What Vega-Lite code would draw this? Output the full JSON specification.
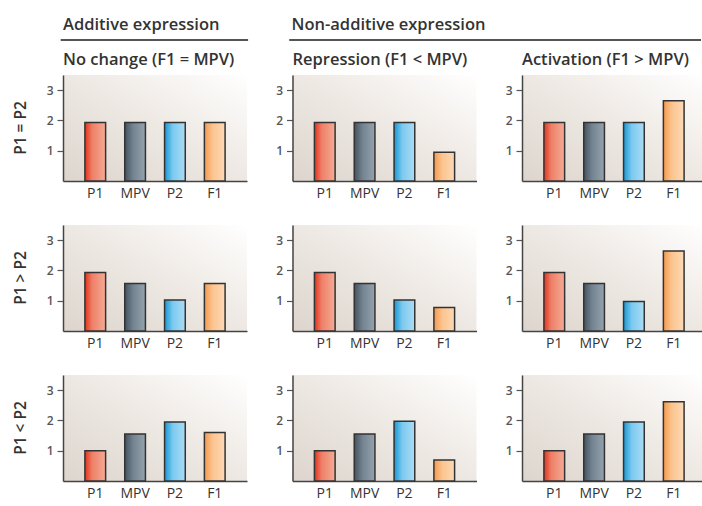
{
  "$schema": "https://vega.github.io/schema/vega-lite/v6.json",
  "padding": {"left": 13, "top": 4, "right": 0, "bottom": 0},
  "background": "white",
  "spacing": 7,
  "config": {
    "font": "Open Sans",
    "view": {"stroke": null},
    "axis": {"grid": false}
  },
  "vconcat": [
    {
      "width": 638,
      "height": 40,
      "layer": [
        {
          "data": {"values": [{"label": "Additive expression"}]},
          "mark": {"type": "text", "align": "left", "baseline": "middle", "fontSize": 16.5, "fontWeight": 600, "color": "#333333"},
          "encoding": {
            "x": {"datum": 0, "type": "quantitative", "scale": {"domain": [0, 2.792], "nice": false, "zero": false}, "axis": null},
            "y": {"datum": 0.47, "type": "quantitative", "scale": {"domain": [0, 1], "nice": false}, "axis": null},
            "text": {"field": "label"}
          }
        },
        {
          "data": {"values": [{"label": "Non-additive expression"}]},
          "mark": {"type": "text", "align": "left", "baseline": "middle", "fontSize": 16.5, "fontWeight": 600, "color": "#333333"},
          "encoding": {
            "x": {"datum": 1, "type": "quantitative"},
            "y": {"datum": 0.47, "type": "quantitative"},
            "text": {"field": "label"}
          }
        },
        {
          "data": {"values": [{"group": "Additive expression"}]},
          "mark": {"type": "rule", "color": "#555555", "strokeWidth": 2},
          "encoding": {
            "x": {"datum": -0.01, "type": "quantitative"},
            "x2": {"datum": 0.81},
            "y": {"datum": 0.1, "type": "quantitative"}
          }
        },
        {
          "data": {"values": [{"group": "Non-additive expression"}]},
          "mark": {"type": "rule", "color": "#555555", "strokeWidth": 2},
          "encoding": {
            "x": {"datum": 0.99, "type": "quantitative"},
            "x2": {"datum": 2.792},
            "y": {"datum": 0.1, "type": "quantitative"}
          }
        }
      ]
    },
    {
      "data": {
        "values": [
          {"row": "P1 = P2", "col": "No change (F1 = MPV)", "genotype": "P1", "value": 1.93},
          {"row": "P1 = P2", "col": "No change (F1 = MPV)", "genotype": "MPV", "value": 1.93},
          {"row": "P1 = P2", "col": "No change (F1 = MPV)", "genotype": "P2", "value": 1.93},
          {"row": "P1 = P2", "col": "No change (F1 = MPV)", "genotype": "F1", "value": 1.93},
          {"row": "P1 = P2", "col": "Repression (F1 < MPV)", "genotype": "P1", "value": 1.93},
          {"row": "P1 = P2", "col": "Repression (F1 < MPV)", "genotype": "MPV", "value": 1.93},
          {"row": "P1 = P2", "col": "Repression (F1 < MPV)", "genotype": "P2", "value": 1.93},
          {"row": "P1 = P2", "col": "Repression (F1 < MPV)", "genotype": "F1", "value": 0.95},
          {"row": "P1 = P2", "col": "Activation (F1 > MPV)", "genotype": "P1", "value": 1.93},
          {"row": "P1 = P2", "col": "Activation (F1 > MPV)", "genotype": "MPV", "value": 1.93},
          {"row": "P1 = P2", "col": "Activation (F1 > MPV)", "genotype": "P2", "value": 1.93},
          {"row": "P1 = P2", "col": "Activation (F1 > MPV)", "genotype": "F1", "value": 2.65},
          {"row": "P1 > P2", "col": "No change (F1 = MPV)", "genotype": "P1", "value": 1.93},
          {"row": "P1 > P2", "col": "No change (F1 = MPV)", "genotype": "MPV", "value": 1.57},
          {"row": "P1 > P2", "col": "No change (F1 = MPV)", "genotype": "P2", "value": 1.02},
          {"row": "P1 > P2", "col": "No change (F1 = MPV)", "genotype": "F1", "value": 1.57},
          {"row": "P1 > P2", "col": "Repression (F1 < MPV)", "genotype": "P1", "value": 1.93},
          {"row": "P1 > P2", "col": "Repression (F1 < MPV)", "genotype": "MPV", "value": 1.57},
          {"row": "P1 > P2", "col": "Repression (F1 < MPV)", "genotype": "P2", "value": 1.02},
          {"row": "P1 > P2", "col": "Repression (F1 < MPV)", "genotype": "F1", "value": 0.78},
          {"row": "P1 > P2", "col": "Activation (F1 > MPV)", "genotype": "P1", "value": 1.93},
          {"row": "P1 > P2", "col": "Activation (F1 > MPV)", "genotype": "MPV", "value": 1.57},
          {"row": "P1 > P2", "col": "Activation (F1 > MPV)", "genotype": "P2", "value": 0.97},
          {"row": "P1 > P2", "col": "Activation (F1 > MPV)", "genotype": "F1", "value": 2.64},
          {"row": "P1 < P2", "col": "No change (F1 = MPV)", "genotype": "P1", "value": 1.0},
          {"row": "P1 < P2", "col": "No change (F1 = MPV)", "genotype": "MPV", "value": 1.55},
          {"row": "P1 < P2", "col": "No change (F1 = MPV)", "genotype": "P2", "value": 1.95},
          {"row": "P1 < P2", "col": "No change (F1 = MPV)", "genotype": "F1", "value": 1.6},
          {"row": "P1 < P2", "col": "Repression (F1 < MPV)", "genotype": "P1", "value": 1.0},
          {"row": "P1 < P2", "col": "Repression (F1 < MPV)", "genotype": "MPV", "value": 1.55},
          {"row": "P1 < P2", "col": "Repression (F1 < MPV)", "genotype": "P2", "value": 1.97},
          {"row": "P1 < P2", "col": "Repression (F1 < MPV)", "genotype": "F1", "value": 0.69},
          {"row": "P1 < P2", "col": "Activation (F1 > MPV)", "genotype": "P1", "value": 1.0},
          {"row": "P1 < P2", "col": "Activation (F1 > MPV)", "genotype": "MPV", "value": 1.55},
          {"row": "P1 < P2", "col": "Activation (F1 > MPV)", "genotype": "P2", "value": 1.95},
          {"row": "P1 < P2", "col": "Activation (F1 > MPV)", "genotype": "F1", "value": 2.62}
        ]
      },
      "facet": {
        "row": {
          "field": "row", "type": "nominal", "sort": ["P1 = P2", "P1 > P2", "P1 < P2"],
          "header": {"title": null, "labelAngle": -90, "labelOrient": "left", "labelFontSize": 15.5, "labelFontWeight": 600, "labelColor": "#333333", "labelPadding": 10}
        },
        "column": {
          "field": "col", "type": "nominal", "sort": ["No change (F1 = MPV)", "Repression (F1 < MPV)", "Activation (F1 > MPV)"],
          "header": {"title": null, "labelAnchor": "start", "labelFontSize": 16.5, "labelFontWeight": 600, "labelColor": "#333333", "labelPadding": 7}
        }
      },
      "spacing": {"row": 25, "column": 28.5},
      "resolve": {"axis": {"x": "independent", "y": "independent"}},
      "spec": {
        "width": 184,
        "height": 106,
        "view": {
          "fill": {"gradient": "linear", "x1": 0, "y1": 1, "x2": 1, "y2": 0, "stops": [{"offset": 0, "color": "#ddd5cd"}, {"offset": 0.55, "color": "#efeae5"}, {"offset": 1, "color": "#ffffff"}]},
          "stroke": null
        },
        "encoding": {
          "x": {
            "field": "genotype", "type": "nominal", "sort": ["P1", "MPV", "P2", "F1"],
            "scale": {"domain": ["P1", "MPV", "P2", "F1"], "paddingInner": 0.48, "paddingOuter": 0.55},
            "axis": {"title": null, "labelAngle": 0, "ticks": false, "domainColor": "#444444", "domainWidth": 1.5, "labelFontSize": 14, "labelColor": "#333333", "labelPadding": 5}
          },
          "y": {
            "field": "value", "type": "quantitative",
            "scale": {"domain": [0, 3.5], "nice": false},
            "axis": {"title": null, "values": [1, 2, 3], "tickSize": 6, "tickColor": "#555555", "tickWidth": 1.2, "domainColor": "#444444", "domainWidth": 1.5, "labelFontSize": 12, "labelFontWeight": 600, "labelColor": "#555555", "labelPadding": 4}
          }
        },
        "layer": [
          {
            "transform": [{"filter": "datum.genotype === 'P1'"}],
            "mark": {"type": "bar", "stroke": "#333333", "strokeWidth": 1.5,
              "fill": {"gradient": "linear", "x1": 0, "y1": 0, "x2": 1, "y2": 0, "stops": [{"offset": 0, "color": "#e2321c"}, {"offset": 0.35, "color": "#ee8068"}, {"offset": 1, "color": "#f5ab95"}]}}
          },
          {
            "transform": [{"filter": "datum.genotype === 'MPV'"}],
            "mark": {"type": "bar", "stroke": "#333333", "strokeWidth": 1.5,
              "fill": {"gradient": "linear", "x1": 0, "y1": 0, "x2": 1, "y2": 0, "stops": [{"offset": 0, "color": "#44525f"}, {"offset": 0.4, "color": "#738391"}, {"offset": 1, "color": "#96a3ae"}]}}
          },
          {
            "transform": [{"filter": "datum.genotype === 'P2'"}],
            "mark": {"type": "bar", "stroke": "#333333", "strokeWidth": 1.5,
              "fill": {"gradient": "linear", "x1": 0, "y1": 0, "x2": 1, "y2": 0, "stops": [{"offset": 0, "color": "#1597d4"}, {"offset": 0.4, "color": "#7ccaf0"}, {"offset": 1, "color": "#abdcf5"}]}}
          },
          {
            "transform": [{"filter": "datum.genotype === 'F1'"}],
            "mark": {"type": "bar", "stroke": "#333333", "strokeWidth": 1.5,
              "fill": {"gradient": "linear", "x1": 0, "y1": 0, "x2": 1, "y2": 0, "stops": [{"offset": 0, "color": "#f4984c"}, {"offset": 0.4, "color": "#fbc48f"}, {"offset": 1, "color": "#fdd9b6"}]}}
          }
        ]
      }
    }
  ]
}
